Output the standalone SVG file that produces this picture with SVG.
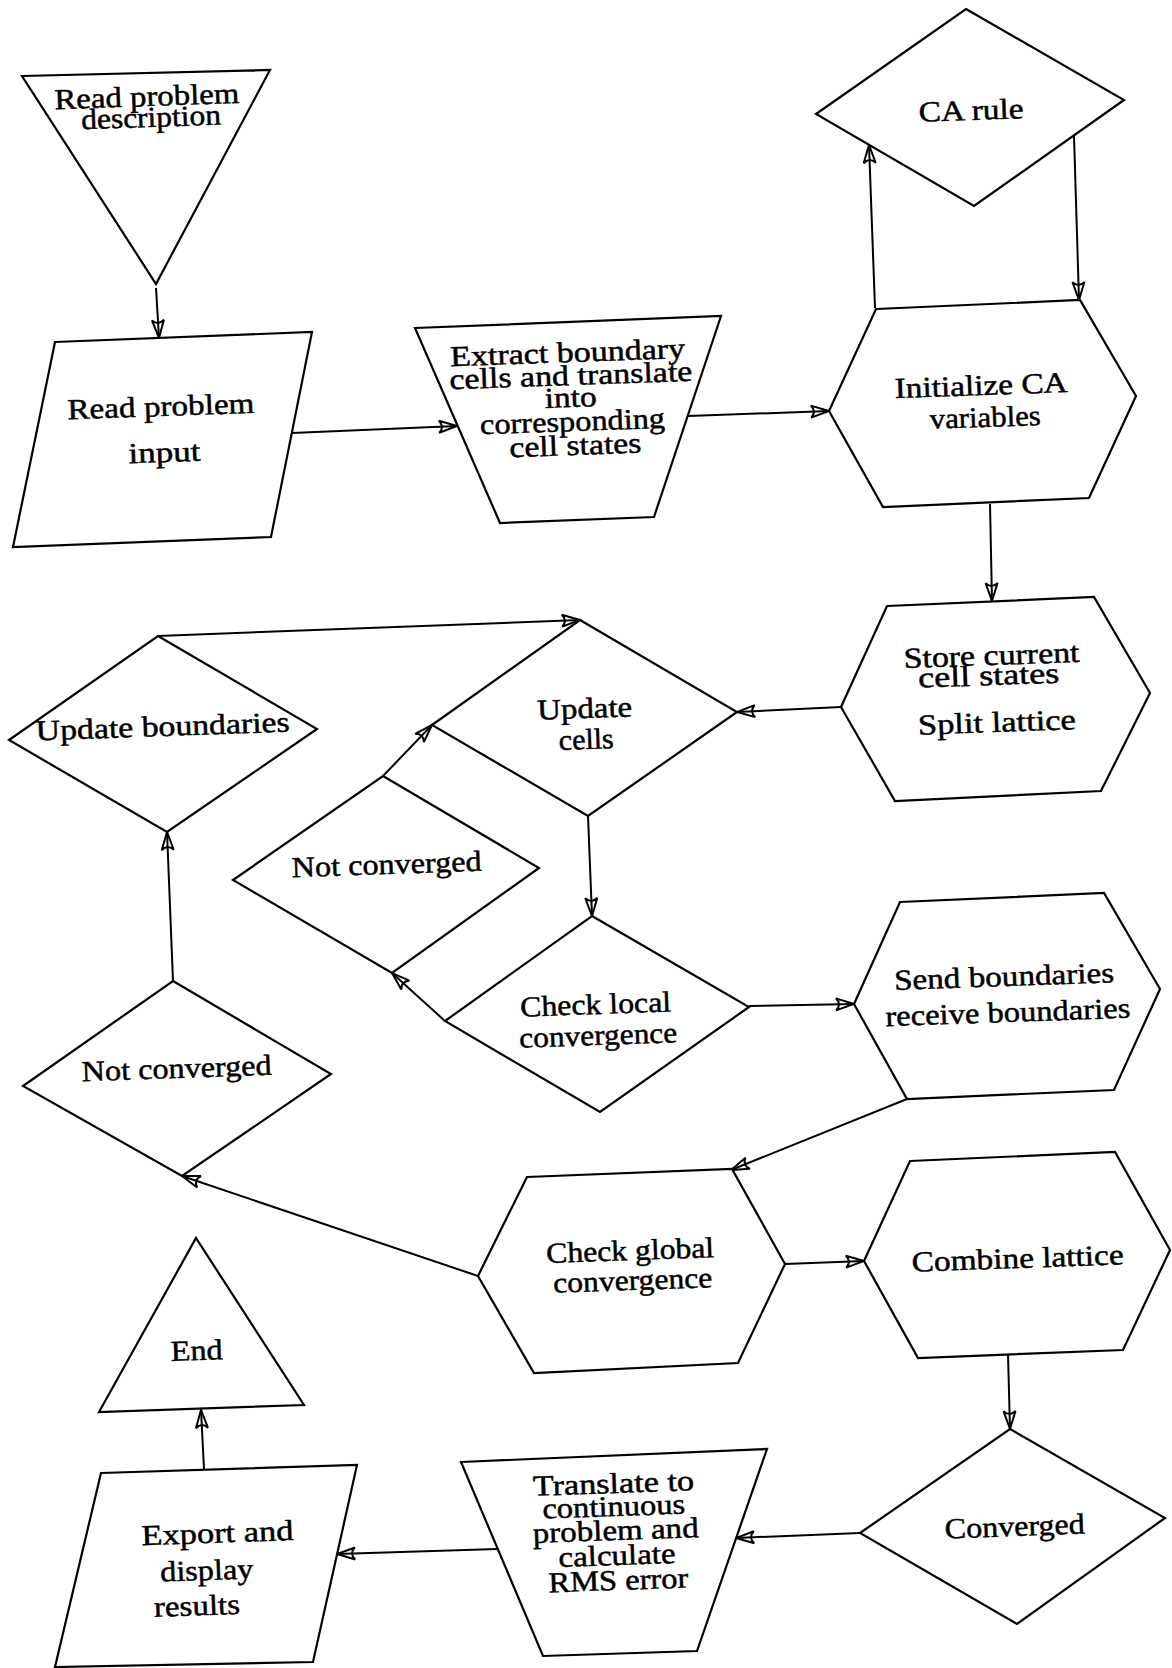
<svg xmlns="http://www.w3.org/2000/svg" width="1172" height="1668" viewBox="0 0 1172 1668">
  <style>
    .shape { fill: #fff; stroke: #000; stroke-width: 2.2; stroke-linejoin: miter; }
    .conn { fill: none; stroke: #000; stroke-width: 2; marker-end: url(#arrow); }
    .lbl { font-family: "Liberation Serif", "Times New Roman", serif; font-size: 29px; fill: #000; stroke: #000; stroke-width: 0.5; text-anchor: middle; }
  </style>
  <defs>
    <!-- open arrowhead with a concave back -->
    <marker id="arrow" markerUnits="userSpaceOnUse" viewBox="-22 -9 24 18" markerWidth="24" markerHeight="18" refX="0" refY="0" orient="auto">
      <path d="M0,0 L-18,-6 Q-12,0 -18,6 Z" fill="none" stroke="#000" stroke-width="2" stroke-linejoin="miter"/>
    </marker>
  </defs>
  <rect width="1172" height="1668" fill="#fff"/>

  <!-- connectors -->
  <g id="connectors">
    <line class="conn" x1="156" y1="288" x2="159" y2="338"/>
    <line class="conn" x1="292" y1="433" x2="457" y2="426"/>
    <line class="conn" x1="688" y1="416" x2="829" y2="411"/>
    <line class="conn" x1="875" y1="308" x2="869" y2="145"/>
    <line class="conn" x1="1074" y1="136" x2="1079" y2="300"/>
    <line class="conn" x1="990" y1="504" x2="992" y2="601"/>
    <line class="conn" x1="841" y1="707" x2="737" y2="712"/>
    <line class="conn" x1="158" y1="636" x2="580" y2="620"/>
    <line class="conn" x1="383" y1="776" x2="432" y2="725"/>
    <line class="conn" x1="588" y1="816" x2="592" y2="916"/>
    <line class="conn" x1="445" y1="1021" x2="392" y2="973"/>
    <line class="conn" x1="749" y1="1006" x2="854" y2="1004"/>
    <line class="conn" x1="907" y1="1099" x2="731" y2="1170"/>
    <line class="conn" x1="478" y1="1276" x2="182" y2="1176"/>
    <line class="conn" x1="173" y1="981" x2="167" y2="832"/>
    <line class="conn" x1="785" y1="1264" x2="864" y2="1261"/>
    <line class="conn" x1="1008" y1="1354" x2="1010" y2="1429"/>
    <line class="conn" x1="860" y1="1533" x2="736" y2="1538"/>
    <line class="conn" x1="497" y1="1549" x2="337" y2="1554"/>
    <line class="conn" x1="204" y1="1469" x2="201" y2="1410"/>
  </g>

  <g id="read-description">
    <polygon class="shape" points="22,76 270,70 156,284"/>
    <g transform="rotate(-2 149 116)">
      <text class="lbl" x="147.5" y="106" textLength="185" lengthAdjust="spacingAndGlyphs">Read problem</text>
      <text class="lbl" x="151" y="127" textLength="140" lengthAdjust="spacingAndGlyphs">description</text>
    </g>
  </g>

  <g id="read-input">
    <polygon class="shape" points="55,342 312,332 271,537 13,547"/>
    <g transform="rotate(-2 163 439)">
      <text class="lbl" x="162" y="416" textLength="187" lengthAdjust="spacingAndGlyphs">Read problem</text>
      <text class="lbl" x="164" y="462" textLength="72" lengthAdjust="spacingAndGlyphs">input</text>
    </g>
  </g>

  <g id="extract-boundary">
    <polygon class="shape" points="415,328 721,316 654,517 500,523"/>
    <g transform="rotate(-2 572 408)">
      <text class="lbl" x="569.5" y="362" textLength="235" lengthAdjust="spacingAndGlyphs">Extract boundary</text>
      <text class="lbl" x="572" y="385" textLength="243" lengthAdjust="spacingAndGlyphs">cells and translate</text>
      <text class="lbl" x="571" y="407" textLength="52" lengthAdjust="spacingAndGlyphs">into</text>
      <text class="lbl" x="572" y="431" textLength="185" lengthAdjust="spacingAndGlyphs">corresponding</text>
      <text class="lbl" x="574" y="455" textLength="132" lengthAdjust="spacingAndGlyphs">cell states</text>
    </g>
  </g>

  <g id="init-ca">
    <polygon class="shape" points="876,309 1080,300 1136,396 1089,498 883,507 829,411"/>
    <g transform="rotate(-2 983 411)">
      <text class="lbl" x="982" y="395" textLength="173" lengthAdjust="spacingAndGlyphs">Initialize CA</text>
      <text class="lbl" x="985" y="427" textLength="111" lengthAdjust="spacingAndGlyphs">variables</text>
    </g>
  </g>

  <g id="ca-rule">
    <polygon class="shape" points="966,9 1124,100 974,206 816,114"/>
    <text class="lbl" x="971.5" y="120" textLength="105" lengthAdjust="spacingAndGlyphs" transform="rotate(-2 971.5 120)">CA rule</text>
  </g>

  <g id="store-split">
    <polygon class="shape" points="887,606 1094,597 1150,693 1101,791 895,801 841,707"/>
    <g transform="rotate(-2 993 698)">
      <text class="lbl" x="993" y="665" textLength="176" lengthAdjust="spacingAndGlyphs">Store current</text>
      <text class="lbl" x="989.5" y="685" textLength="141" lengthAdjust="spacingAndGlyphs">cell states</text>
      <text class="lbl" x="996" y="732" textLength="158" lengthAdjust="spacingAndGlyphs">Split lattice</text>
    </g>
  </g>

  <g id="update-cells">
    <polygon class="shape" points="580,620 737,712 588,816 432,725"/>
    <g transform="rotate(-2 586 733)">
      <text class="lbl" x="585.5" y="718" textLength="95" lengthAdjust="spacingAndGlyphs">Update</text>
      <text class="lbl" x="586" y="749" textLength="55" lengthAdjust="spacingAndGlyphs">cells</text>
    </g>
  </g>

  <g id="update-boundaries">
    <polygon class="shape" points="158,636 317,729 167,832 9,740"/>
    <text class="lbl" x="163" y="736" textLength="254" lengthAdjust="spacingAndGlyphs" transform="rotate(-2 163 736)">Update boundaries</text>
  </g>

  <g id="not-converged-local">
    <polygon class="shape" points="383,776 539,868 392,973 233,880"/>
    <text class="lbl" x="387" y="874" textLength="190" lengthAdjust="spacingAndGlyphs" transform="rotate(-2 387 874)">Not converged</text>
  </g>

  <g id="check-local">
    <polygon class="shape" points="592,916 749,1007 600,1112 445,1021"/>
    <g transform="rotate(-2 597 1030)">
      <text class="lbl" x="596.5" y="1014" textLength="151" lengthAdjust="spacingAndGlyphs">Check local</text>
      <text class="lbl" x="598" y="1045" textLength="158" lengthAdjust="spacingAndGlyphs">convergence</text>
    </g>
  </g>

  <g id="send-receive">
    <polygon class="shape" points="900,902 1104,893 1160,989 1114,1090 907,1099 854,1004"/>
    <g transform="rotate(-2 1006 1004)">
      <text class="lbl" x="1005" y="986" textLength="220" lengthAdjust="spacingAndGlyphs">Send boundaries</text>
      <text class="lbl" x="1007.5" y="1022" textLength="245" lengthAdjust="spacingAndGlyphs">receive boundaries</text>
    </g>
  </g>

  <g id="not-converged-global">
    <polygon class="shape" points="173,981 331,1074 182,1176 23,1086"/>
    <text class="lbl" x="177" y="1078" textLength="190" lengthAdjust="spacingAndGlyphs" transform="rotate(-2 177 1078)">Not converged</text>
  </g>

  <g id="check-global">
    <polygon class="shape" points="527,1177 732,1169 785,1264 738,1363 534,1373 478,1276"/>
    <g transform="rotate(-2 632 1275)">
      <text class="lbl" x="631" y="1260" textLength="168" lengthAdjust="spacingAndGlyphs">Check global</text>
      <text class="lbl" x="632.5" y="1290" textLength="159" lengthAdjust="spacingAndGlyphs">convergence</text>
    </g>
  </g>

  <g id="combine-lattice">
    <polygon class="shape" points="910,1161 1115,1152 1170,1250 1123,1350 918,1358 864,1261"/>
    <text class="lbl" x="1018" y="1268" textLength="212" lengthAdjust="spacingAndGlyphs" transform="rotate(-2 1018 1268)">Combine lattice</text>
  </g>

  <g id="end">
    <polygon class="shape" points="196,1238 304,1405 99,1412"/>
    <text class="lbl" x="197" y="1360" textLength="52" lengthAdjust="spacingAndGlyphs" transform="rotate(-2 197 1360)">End</text>
  </g>

  <g id="converged">
    <polygon class="shape" points="1010,1429 1165,1518 1017,1624 860,1533"/>
    <text class="lbl" x="1015" y="1536" textLength="140" lengthAdjust="spacingAndGlyphs" transform="rotate(-2 1015 1536)">Converged</text>
  </g>

  <g id="translate-rms">
    <polygon class="shape" points="461,1462 767,1449 697,1651 543,1656"/>
    <g transform="rotate(-2 616 1542)">
      <text class="lbl" x="615.5" y="1493" textLength="161" lengthAdjust="spacingAndGlyphs">Translate to</text>
      <text class="lbl" x="615" y="1516" textLength="143" lengthAdjust="spacingAndGlyphs">continuous</text>
      <text class="lbl" x="616" y="1540" textLength="166" lengthAdjust="spacingAndGlyphs">problem and</text>
      <text class="lbl" x="616.5" y="1565" textLength="117" lengthAdjust="spacingAndGlyphs">calculate</text>
      <text class="lbl" x="617" y="1590" textLength="140" lengthAdjust="spacingAndGlyphs">RMS error</text>
    </g>
  </g>

  <g id="export-display">
    <polygon class="shape" points="101,1473 357,1465 313,1662 55,1667"/>
    <g transform="rotate(-2 207 1579)">
      <text class="lbl" x="219" y="1543" textLength="152" lengthAdjust="spacingAndGlyphs">Export and</text>
      <text class="lbl" x="207" y="1580" textLength="93" lengthAdjust="spacingAndGlyphs">display</text>
      <text class="lbl" x="196" y="1615" textLength="86" lengthAdjust="spacingAndGlyphs">results</text>
    </g>
  </g>
</svg>
